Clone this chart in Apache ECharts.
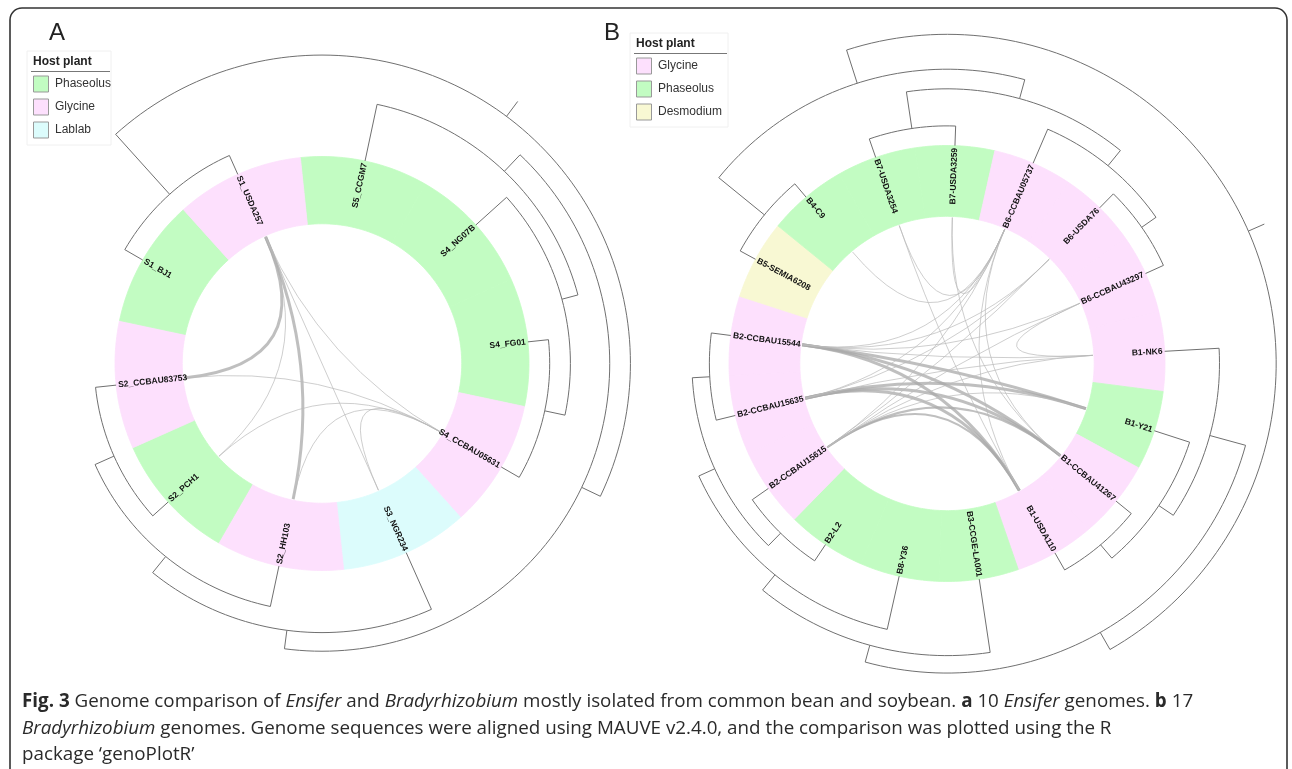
<!DOCTYPE html>
<html lang="en">
<head>
<meta charset="UTF-8">
<title>Fig. 3 genome comparison</title>
<script src="https://cdn.jsdelivr.net/npm/echarts@6/dist/echarts.min.js"></script>
<style>html,body{margin:0;padding:0;background:#fff}</style>
</head>
<body>
<div id="main" style="width:1292px;height:769px"></div>
<script type="text/javascript">
// host plant colours
var hostColor = {Phaseolus: '#c2fcc2', Glycine: '#fde0fd', Lablab: '#dcfcfc', Desmodium: '#f8f8d3'};

// ---- panel A : Ensifer (clockwise from the top) ----
var genomesA = ['S5_CCGM7', 'S4_NG07B', 'S4_FG01', 'S4_CCBAU05631', 'S3_NGR234',
    'S2_HH103', 'S2_PCH1', 'S2_CCBAU83753', 'S1_BJ1', 'S1_USDA257'];
var hostA = ['Phaseolus', 'Phaseolus', 'Phaseolus', 'Glycine', 'Lablab',
    'Glycine', 'Phaseolus', 'Glycine', 'Phaseolus', 'Glycine'];
var sizeA = [1, 1, 1, 1, 1, 1, 1, 1, 1, 1];
var startA = -6;
// [height, child, child]; height in ring radii
var treeA = [1.49,
    [1.10, 'S1_BJ1', 'S1_USDA257'],
    [1.39,
        [1.28, 'S5_CCGM7', [1.20, 'S4_NG07B', [1.10, 'S4_FG01', 'S4_CCBAU05631']]],
        [1.30, 'S3_NGR234', [1.20, 'S2_HH103', [1.10, 'S2_PCH1', 'S2_CCBAU83753']]]]];
var rootStubA = 0.09;
var linksA = [
    ['S1_USDA257', 'S2_CCBAU83753', 3],
    ['S1_USDA257', 'S2_HH103', 3],
    ['S1_USDA257', 'S3_NGR234', 1],
    ['S1_USDA257', 'S4_CCBAU05631', 1],
    ['S1_USDA257', 'S2_PCH1', 1],
    ['S2_CCBAU83753', 'S4_CCBAU05631', 1],
    ['S2_PCH1', 'S4_CCBAU05631', 1],
    ['S2_HH103', 'S4_CCBAU05631', 1],
    ['S3_NGR234', 'S4_CCBAU05631', 1]
];
var legendA = ['Phaseolus', 'Glycine', 'Lablab'];

// ---- panel B : Bradyrhizobium ----
var genomesB = ['B7-USDA3259', 'B6-CCBAU05737', 'B6-USDA76', 'B6-CCBAU43297', 'B1-NK6',
    'B1-Y21', 'B1-CCBAU41267', 'B1-USDA110', 'B3-CCGE-LA001', 'B8-Y36', 'B2-L2',
    'B2-CCBAU15615', 'B2-CCBAU15635', 'B2-CCBAU15544', 'B5-SEMIA6208', 'B4-C9', 'B7-USDA3254'];
var hostB = ['Phaseolus', 'Glycine', 'Glycine', 'Glycine', 'Glycine',
    'Phaseolus', 'Glycine', 'Glycine', 'Phaseolus', 'Phaseolus', 'Phaseolus',
    'Glycine', 'Glycine', 'Glycine', 'Desmodium', 'Phaseolus', 'Phaseolus'];
var sizeB = [1, 1, 1, 1, 1, 1, 1, 1, 1, 1, 1, 1, 1, 1, 1, 1, 1];
var startB = -8.5;
var treeB = [1.51,
    [1.35,
        [1.08, 'B5-SEMIA6208', 'B4-C9'],
        [1.26,
            [1.09, 'B7-USDA3254', 'B7-USDA3259'],
            [1.17, 'B6-CCBAU05737', [1.09, 'B6-USDA76', 'B6-CCBAU43297']]]],
    [1.42,
        [1.25, 'B1-NK6', [1.17, 'B1-Y21', [1.09, 'B1-CCBAU41267', 'B1-USDA110']]],
        [1.34, 'B3-CCGE-LA001',
            [1.25, 'B8-Y36',
                [1.17, [1.09, 'B2-L2', 'B2-CCBAU15615'], [1.09, 'B2-CCBAU15635', 'B2-CCBAU15544']]]]]];
var rootStubB = 0.08;
var linksB = [
    ['B2-CCBAU15544', 'B1-Y21', 3], ['B2-CCBAU15544', 'B1-CCBAU41267', 3], ['B2-CCBAU15544', 'B1-USDA110', 3],
    ['B2-CCBAU15635', 'B1-Y21', 3], ['B2-CCBAU15635', 'B1-CCBAU41267', 3], ['B2-CCBAU15635', 'B1-USDA110', 3],
    ['B2-CCBAU15615', 'B1-CCBAU41267', 2], ['B2-CCBAU15615', 'B1-USDA110', 2],
    ['B2-CCBAU15544', 'B1-NK6', 1], ['B2-CCBAU15635', 'B1-NK6', 1], ['B2-CCBAU15615', 'B1-NK6', 1],
    ['B2-CCBAU15615', 'B1-Y21', 1],
    ['B6-CCBAU05737', 'B7-USDA3254', 1], ['B6-CCBAU05737', 'B7-USDA3259', 1], ['B6-CCBAU05737', 'B4-C9', 1],
    ['B6-CCBAU05737', 'B2-CCBAU15544', 1], ['B6-CCBAU05737', 'B2-CCBAU15635', 1],
    ['B6-CCBAU05737', 'B2-CCBAU15615', 1], ['B6-CCBAU05737', 'B1-USDA110', 1],
    ['B6-CCBAU05737', 'B1-CCBAU41267', 1],
    ['B6-USDA76', 'B2-CCBAU15544', 1], ['B6-USDA76', 'B2-CCBAU15635', 1], ['B6-USDA76', 'B2-CCBAU15615', 1],
    ['B6-CCBAU43297', 'B2-CCBAU15544', 1], ['B6-CCBAU43297', 'B2-CCBAU15615', 1], ['B6-CCBAU43297', 'B1-NK6', 1],
    ['B7-USDA3254', 'B1-USDA110', 1], ['B7-USDA3259', 'B1-CCBAU41267', 1]
];
var legendB = ['Glycine', 'Phaseolus', 'Desmodium'];

var RING_IN = 0.675, RING_OUT = 1.0, LINK_R = 0.67, LABEL_R = 0.99;

function toXY(r, deg) {
    var a = deg * Math.PI / 180;
    return [r * Math.sin(a), r * Math.cos(a)];
}

function sectors(sizes, start) {
    var tot = 0, acc = 0, out = [];
    sizes.forEach(function (s) { tot += s; });
    sizes.forEach(function (s) {
        var a0 = start + 360 * acc / tot;
        acc += s;
        out.push([a0, start + 360 * acc / tot]);
    });
    return out;
}

// tree -> list of arcs [0, r, a0, a1] and radial lines [1, a, r0, r1]
function flatten(tree, leafAngle, stub) {
    var segs = [], prev = -Infinity;
    function walk(n) {
        if (typeof n === 'string') {
            var a = leafAngle[n];
            while (a < prev) a += 360;
            prev = a;
            return {a: a, r: RING_OUT};
        }
        var c1 = walk(n[1]), c2 = walk(n[2]);
        segs.push([1, c1.a, c1.r, n[0]]);
        segs.push([1, c2.a, c2.r, n[0]]);
        segs.push([0, n[0], c1.a, c2.a]);
        return {a: (c1.a + c2.a) / 2, r: n[0]};
    }
    var root = walk(tree);
    segs.push([1, root.a, root.r, root.r + stub]);
    return segs;
}

function ringItem(params, api) {
    var a0 = api.value(0), a1 = api.value(1), pts = [], n = 24, i;
    for (i = 0; i <= n; i++) pts.push(api.coord(toXY(RING_OUT, a0 + (a1 - a0) * i / n)));
    for (i = n; i >= 0; i--) pts.push(api.coord(toXY(RING_IN, a0 + (a1 - a0) * i / n)));
    var c = api.visual('color');
    return {type: 'polygon', shape: {points: pts}, style: {fill: c, stroke: c, lineWidth: 0.8}};
}

function treeItem(params, api) {
    var pts = [];
    if (api.value(0) === 0) {
        var r = api.value(1), a0 = api.value(2), a1 = api.value(3);
        var n = Math.max(2, Math.ceil(Math.abs(a1 - a0) / 1.5));
        for (var i = 0; i <= n; i++) pts.push(api.coord(toXY(r, a0 + (a1 - a0) * i / n)));
    } else {
        pts.push(api.coord(toXY(api.value(2), api.value(1))));
        pts.push(api.coord(toXY(api.value(3), api.value(1))));
    }
    return {type: 'polyline', shape: {points: pts}, style: {stroke: '#707070', lineWidth: 1, fill: null}};
}

function linkItem(params, api) {
    var p0 = api.coord(toXY(LINK_R, api.value(0))), p1 = api.coord(toXY(LINK_R, api.value(1)));
    var c = api.coord([0, 0]), w = api.value(2);
    return {
        type: 'bezierCurve',
        shape: {x1: p0[0], y1: p0[1], x2: p1[0], y2: p1[1], cpx1: c[0], cpy1: c[1]},
        style: {stroke: w > 1 ? 'rgba(170,170,170,0.75)' : 'rgba(185,185,185,0.7)', lineWidth: w, fill: null}
    };
}

function labelMaker(names) {
    return function (params, api) {
        var a = api.value(0);
        var p = api.coord(toXY(LABEL_R, a)), q = api.coord(toXY(0.6, a));
        var dx = p[0] - q[0], dy = p[1] - q[1];
        var phi = Math.atan2(-dy, dx);
        var right = dx >= -0.01;
        return {
            type: 'text', x: p[0], y: p[1],
            rotation: right ? phi : phi + Math.PI,
            style: {
                text: names[params.dataIndex], fill: '#111',
                font: 'bold 8.5px "Liberation Sans", Arial, sans-serif',
                align: right ? 'right' : 'left', textAlign: right ? 'right' : 'left',
                verticalAlign: 'middle', textVerticalAlign: 'middle'
            }
        };
    };
}

function panelSeries(idx, genomes, host, sizes, start, tree, stub, links) {
    var sec = sectors(sizes, start), leafAngle = {};
    genomes.forEach(function (g, i) { leafAngle[g] = (sec[i][0] + sec[i][1]) / 2; });
    var ringData = sec.map(function (s, i) {
        return {name: genomes[i], value: s, itemStyle: {color: hostColor[host[i]]}};
    });
    var linkData = links.map(function (l) { return [leafAngle[l[0]], leafAngle[l[1]], l[2]]; });
    var labelData = genomes.map(function (g) { return [leafAngle[g]]; });
    var base = {type: 'custom', xAxisIndex: idx, yAxisIndex: idx, clip: false, silent: true, animation: false};
    return [
        Object.assign({}, base, {renderItem: ringItem, data: ringData}),
        Object.assign({}, base, {renderItem: linkItem, data: linkData}),
        Object.assign({}, base, {renderItem: treeItem, data: flatten(tree, leafAngle, stub)}),
        Object.assign({}, base, {renderItem: labelMaker(genomes), data: labelData})
    ];
}

function legendGroup(x, y, w, names) {
    var ch = [
        {type: 'rect', shape: {x: x, y: y, width: w, height: 94}, style: {fill: '#fff', stroke: '#f0f0f0'}},
        {type: 'text', x: x + 6, y: y + 11, style: {text: 'Host plant', font: 'bold 12px "Liberation Sans", Arial', fill: '#222', verticalAlign: 'middle'}},
        {type: 'line', shape: {x1: x + 4, y1: y + 20.5, x2: x + w - 1, y2: y + 20.5}, style: {stroke: '#777', lineWidth: 1}}
    ];
    names.forEach(function (n, i) {
        var cy = y + 33 + i * 23;
        ch.push({type: 'rect', shape: {x: x + 6.5, y: cy - 8, width: 15, height: 16}, style: {fill: hostColor[n], stroke: '#999', lineWidth: 1}});
        ch.push({type: 'text', x: x + 28, y: cy, style: {text: n, font: '12px "Liberation Sans", Arial', fill: '#333', verticalAlign: 'middle'}});
    });
    return ch;
}

var capFont = '"Open Sans", "Liberation Sans", sans-serif';
var capSize = 18.8;
var capRich = {
    n: {fontFamily: capFont, fontSize: capSize, fill: '#2a2a2a'},
    b: {fontFamily: capFont, fontSize: capSize, fontWeight: 'bold', fill: '#2a2a2a'},
    i: {fontFamily: capFont, fontSize: capSize, fontStyle: 'italic', fill: '#2a2a2a'}
};
var captionLines = [
    '{b|Fig. 3}{n| Genome comparison of }{i|Ensifer}{n| and }{i|Bradyrhizobium}{n| mostly isolated from common bean and soybean. }{b|a}{n| 10 }{i|Ensifer}{n| genomes. }{b|b}{n| 17}',
    '{i|Bradyrhizobium}{n| genomes. Genome sequences were aligned using MAUVE v2.4.0, and the comparison was plotted using the R}',
    '{n|package \u2018genoPlotR\u2019}'
];

var graphics = [
    {type: 'rect', shape: {x: 10, y: 8, width: 1277, height: 800, r: 12}, style: {fill: null, stroke: '#333', lineWidth: 1.6}, z: 10},
    {type: 'text', x: 49, y: 33, style: {text: 'A', font: '24px "Liberation Sans", Arial', fill: '#222', verticalAlign: 'middle'}},
    {type: 'text', x: 604, y: 33, style: {text: 'B', font: '24px "Liberation Sans", Arial', fill: '#222', verticalAlign: 'middle'}}
].concat(legendGroup(27, 51, 84, legendA), legendGroup(630, 33, 98, legendB));
captionLines.forEach(function (t, i) {
    graphics.push({type: 'text', x: 22, y: 702 + i * 26.5, style: {text: t, rich: capRich, verticalAlign: 'middle'}});
});

var myChart = echarts.init(document.getElementById('main'));
var option = {
    backgroundColor: '#fff',
    animation: false,
    grid: [
        {left: 322 - 310.5, top: 363.5 - 310.5, width: 621, height: 621},
        {left: 947 - 327, top: 363.5 - 327, width: 654, height: 654}
    ],
    xAxis: [
        {type: 'value', gridIndex: 0, min: -1.5, max: 1.5, show: false},
        {type: 'value', gridIndex: 1, min: -1.5, max: 1.5, show: false}
    ],
    yAxis: [
        {type: 'value', gridIndex: 0, min: -1.5, max: 1.5, show: false},
        {type: 'value', gridIndex: 1, min: -1.5, max: 1.5, show: false}
    ],
    series: panelSeries(0, genomesA, hostA, sizeA, startA, treeA, rootStubA, linksA)
        .concat(panelSeries(1, genomesB, hostB, sizeB, startB, treeB, rootStubB, linksB)),
    graphic: graphics
};
myChart.setOption(option);
</script>
</body>
</html>
